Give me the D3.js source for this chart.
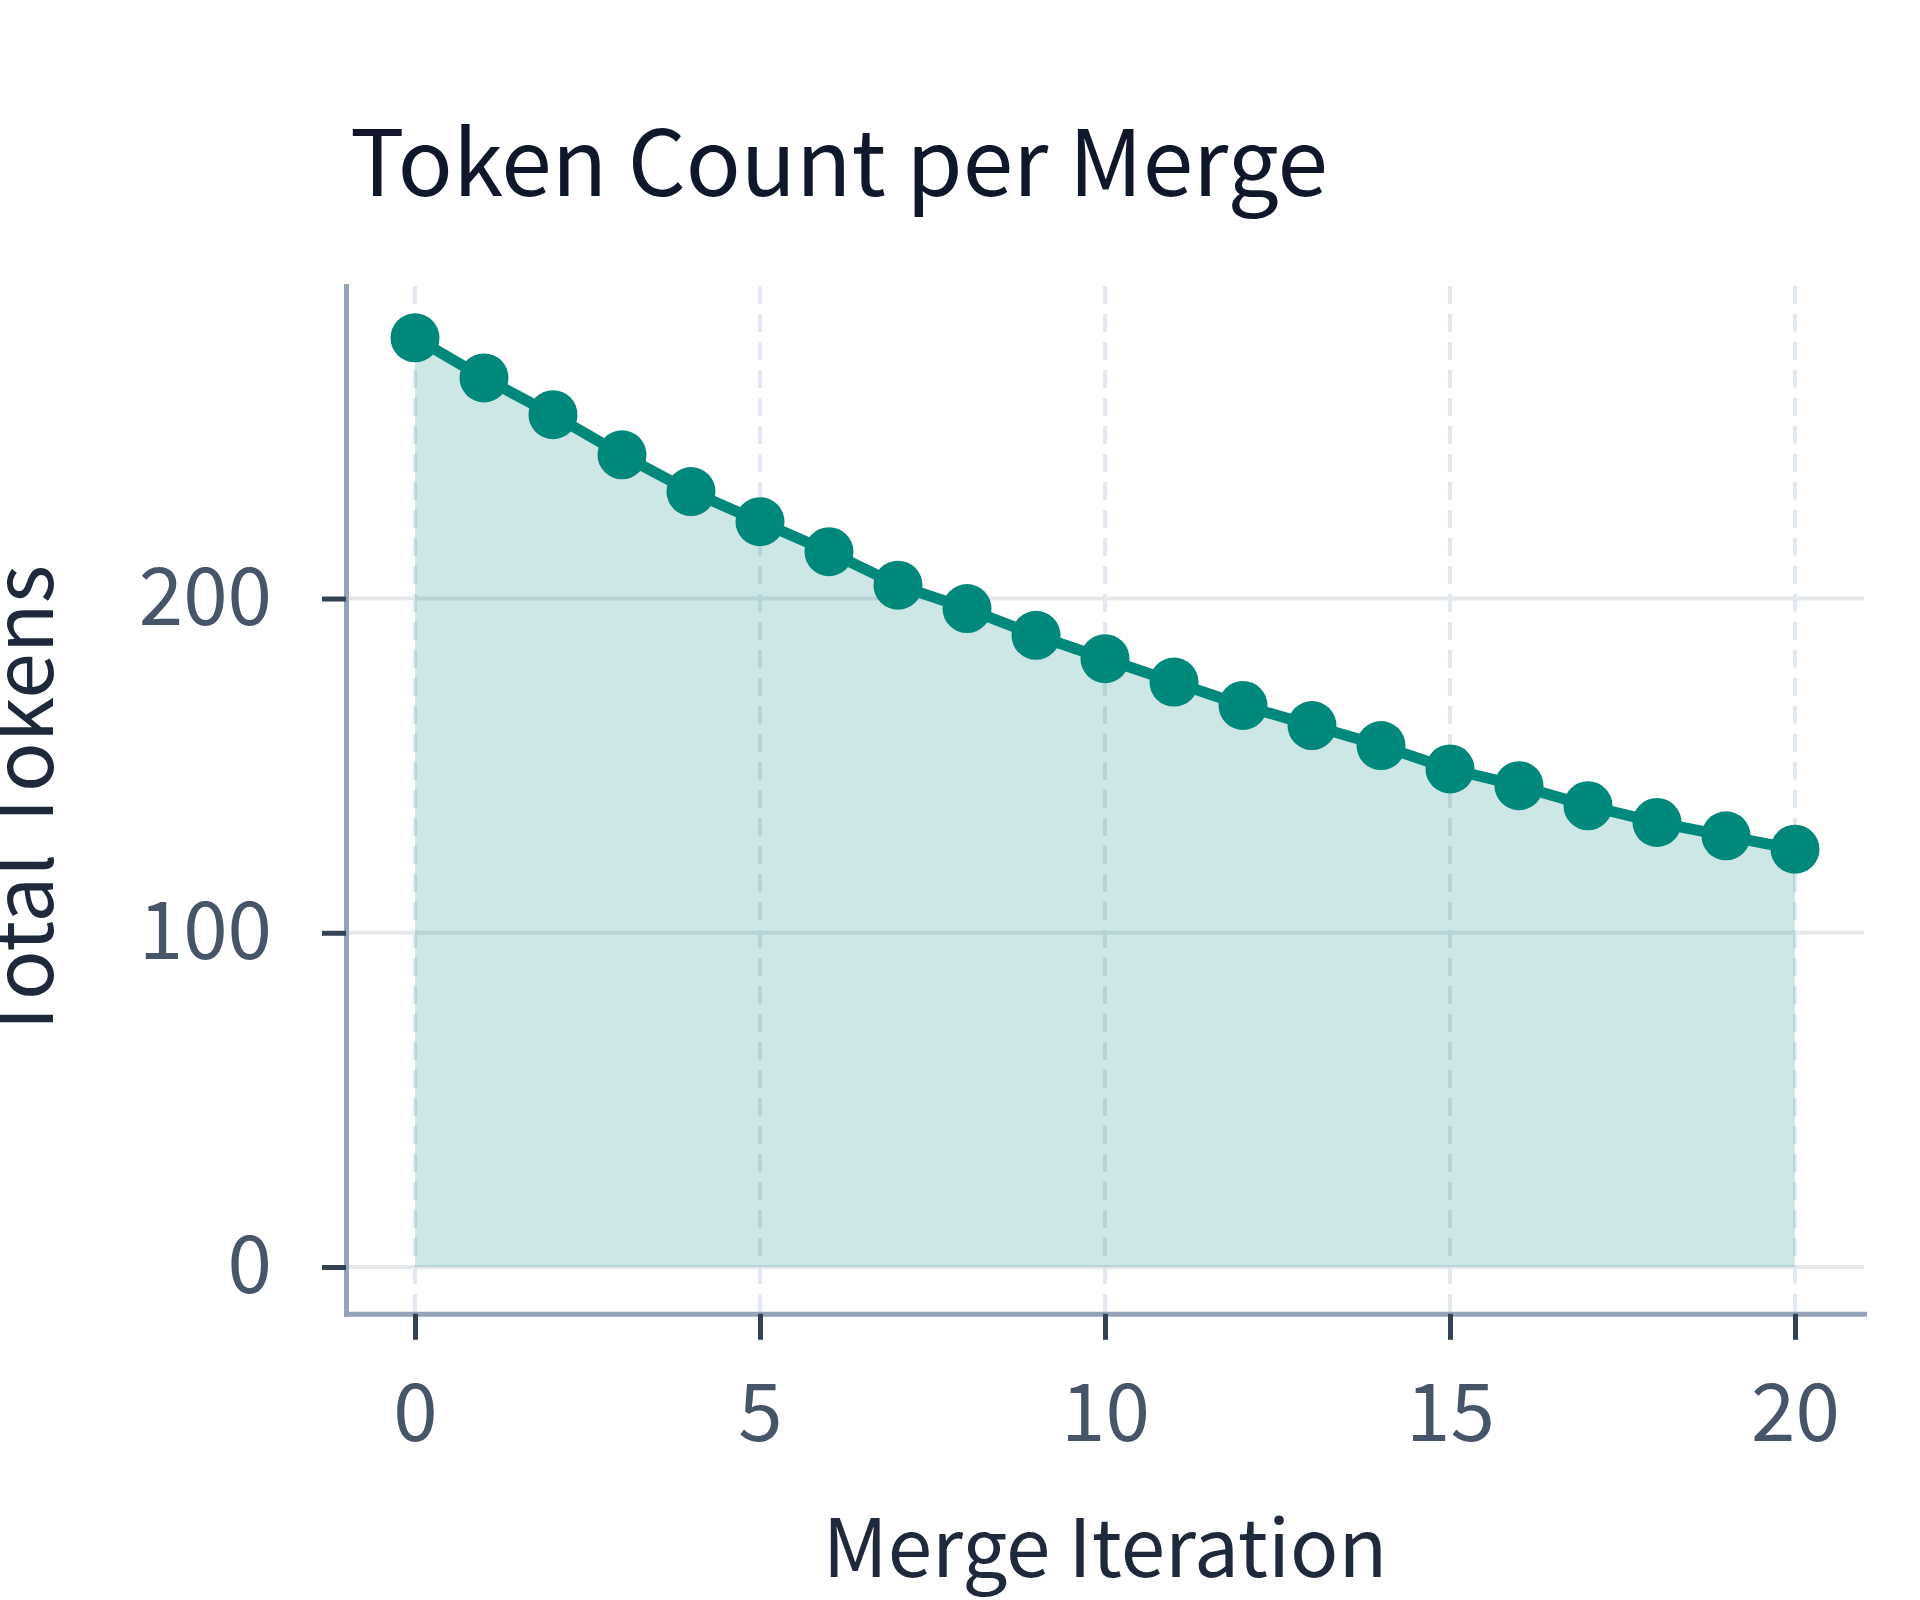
<!DOCTYPE html>
<html>
<head>
<meta charset="utf-8">
<script src="https://cdn.jsdelivr.net/npm/d3@7"></script>
<style>
  body { margin: 0; background: #fff; }
  svg { display: block; }
  text { font-family: "Noto Sans CJK KR", "Noto Sans", sans-serif; }
</style>
</head>
<body>
<svg width="1920" height="1600"></svg>
<script>
// data
const iterations = [0, 1, 2, 3, 4, 5, 6, 7, 8, 9, 10, 11, 12, 13, 14, 15, 16, 17, 18, 19, 20];
const totalTokens = [278, 266, 255, 243, 232, 223, 214, 204, 197, 189, 182, 175, 168, 162, 156, 149, 144, 138, 133, 129, 125];
const xTicks = [0, 5, 10, 15, 20];
const yTicks = [0, 100, 200];

const teal = '#00897b';
const svg = d3.select('svg');

const x = d3.scaleLinear().domain([-1, 21]).range([346, 1864]);
const y = d3.scaleLinear().domain([-14, 293.5]).range([1313.8, 286]);

const points = iterations.map((it, i) => ({x: it, y: totalTokens[i]}));

// title
svg.append('text')
    .attr('x', 350)
    .attr('y', 196)
    .attr('font-size', 91)
    .attr('fill', '#0f172a')
    .text('Token Count per Merge');

// grid
svg.append('g').selectAll('line')
    .data(yTicks).enter()
    .append('line')
    .attr('x1', x.range()[0])
    .attr('x2', x.range()[1])
    .attr('y1', d => y(d))
    .attr('y2', d => y(d))
    .attr('stroke', '#e5e7eb')
    .attr('stroke-width', 4);

svg.append('g').selectAll('line')
    .data(xTicks).enter()
    .append('line')
    .attr('x1', d => x(d))
    .attr('x2', d => x(d))
    .attr('y1', y.range()[1])
    .attr('y2', y.range()[0])
    .attr('stroke', '#e2e8f0')
    .attr('stroke-width', 4)
    .attr('stroke-dasharray', '18 10');

// area + line
const area = d3.area()
    .x(d => x(d.x))
    .y0(y(0))
    .y1(d => y(d.y));
svg.append('path')
    .datum(points)
    .attr('d', area)
    .attr('fill', teal)
    .attr('fill-opacity', 0.2);

const line = d3.line()
    .x(d => x(d.x))
    .y(d => y(d.y));
svg.append('path')
    .datum(points)
    .attr('d', line)
    .attr('fill', 'none')
    .attr('stroke', teal)
    .attr('stroke-width', 11)
    .attr('stroke-linejoin', 'round');

svg.append('g').selectAll('circle')
    .data(points).enter()
    .append('circle')
    .attr('cx', d => x(d.x))
    .attr('cy', d => y(d.y))
    .attr('r', 24.5)
    .attr('fill', teal);

// axes
const styleAxis = (g) => {
    g.select('.domain')
        .attr('stroke', '#94a3b8')
        .attr('stroke-width', 5)
        .attr('stroke-linecap', 'square');
    g.selectAll('.tick line')
        .attr('stroke', '#334155')
        .attr('stroke-width', 5);
    g.selectAll('.tick text')
        .attr('fill', '#475569')
        .attr('font-size', 80)
        .attr('font-family', '"Noto Sans CJK KR", "Noto Sans", sans-serif');
};

svg.append('g')
    .attr('transform', `translate(0,${y.range()[0]})`)
    .call(d3.axisBottom(x).tickValues(xTicks).tickSize(26).tickSizeOuter(0).tickPadding(44))
    .call(styleAxis);

svg.append('g')
    .attr('transform', `translate(${x.range()[0]},0)`)
    .call(d3.axisLeft(y).tickValues(yTicks).tickSize(24).tickSizeOuter(0).tickPadding(50))
    .call(styleAxis);

// axis titles
svg.append('text')
    .attr('x', (x.range()[0] + x.range()[1]) / 2)
    .attr('y', 1577)
    .attr('text-anchor', 'middle')
    .attr('font-size', 80)
    .attr('fill', '#1e293b')
    .text('Merge Iteration');

svg.append('text')
    .attr('transform', `translate(53,${(y.range()[0] + y.range()[1]) / 2 + 4}) rotate(-90)`)
    .attr('text-anchor', 'middle')
    .attr('font-size', 82)
    .attr('fill', '#1e293b')
    .text('Total Tokens');
</script>
</body>
</html>
